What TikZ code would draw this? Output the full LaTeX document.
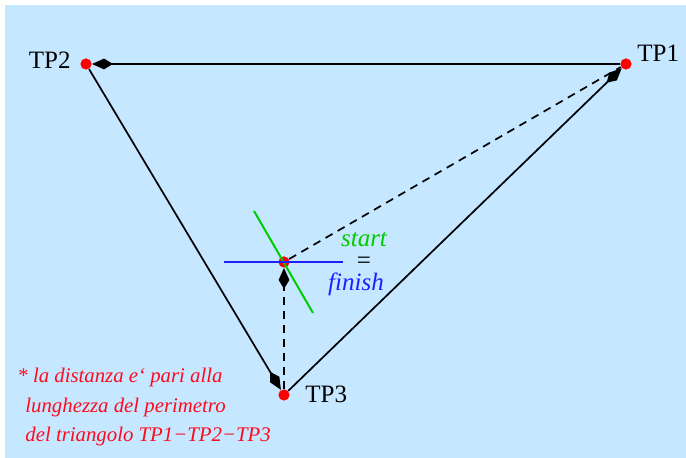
\documentclass[tikz,border=0pt]{standalone}
\usepackage{fontspec}
\setmainfont{Liberation Serif}
\usetikzlibrary{arrows.meta}
\definecolor{bgblue}{RGB}{197,231,255}
\definecolor{tpred}{RGB}{255,0,0}
\definecolor{stgreen}{RGB}{0,204,0}
\definecolor{fnblue}{RGB}{30,30,255}
\definecolor{notered}{RGB}{255,10,30}
\begin{document}
\begin{tikzpicture}[x=0.5pt,y=-0.5pt,
  dot/.style={circle,fill=tpred,minimum size=5.6pt,inner sep=0pt},
  edge/.style={line width=0.85pt,black},
  tip/.style={-{Kite[length=10.5pt,width=5.4pt,inset=4.5pt]}},
  dsh/.style={dash pattern=on 4pt off 3pt},
  lbl/.style={inner sep=0pt,font=\fontsize{12.5pt}{15pt}\selectfont},
  note/.style={inner sep=0pt,text=notered,font=\fontsize{10.4pt}{14pt}\selectfont\itshape,anchor=base west}]
\useasboundingbox (0,0) rectangle (686,458);
\fill[bgblue] (5,5) rectangle (686,458);
% points
\node[dot] (tp2) at (86,64) {};
\node[dot] (tp1) at (626,64) {};
\node[dot] (tp3) at (284,395) {};
\node[dot] (st) at (284,262) {};
% cross at start
\coordinate (g1) at (254,211);
\coordinate (g2) at (313,313);
\coordinate (b1) at (224,262);
\coordinate (b2) at (343,262);
\draw[stgreen,line width=1pt] (g1) -- (g2);
\draw[fnblue,line width=1pt] (b1) -- (b2);
% connectors
\draw[edge,tip] (tp1) -- (tp2);
\draw[edge,tip] (tp2) -- (tp3);
\draw[edge,tip] (tp3) -- (tp1);
\draw[edge,dsh] (st) -- (tp1);
\draw[edge,dsh,tip] (tp3) -- (st);
% labels
\node[lbl,anchor=base east] (l2) at (71,69) {TP2};
\node[lbl,anchor=base west] (l1) at (637,62) {TP1};
\node[lbl,anchor=base west] (l3) at (305,403) {TP3};
\node[lbl,anchor=base,text=stgreen,font=\fontsize{12.5pt}{15pt}\selectfont\itshape] (ls) at (364,247) {start};
\node[lbl,anchor=center] (leq) at (364,263) {=};
\node[lbl,anchor=base,text=fnblue,font=\fontsize{12.5pt}{15pt}\selectfont\itshape] (lf) at (356,291) {finish};
% note
\node[note] (n1) at (17,383) {* la distanza e‘ pari alla};
\node[note] (n2) at (25,413) {lunghezza del perimetro};
\node[note] (n3) at (25,442) {del triangolo TP1−TP2−TP3};
\end{tikzpicture}
\end{document}
